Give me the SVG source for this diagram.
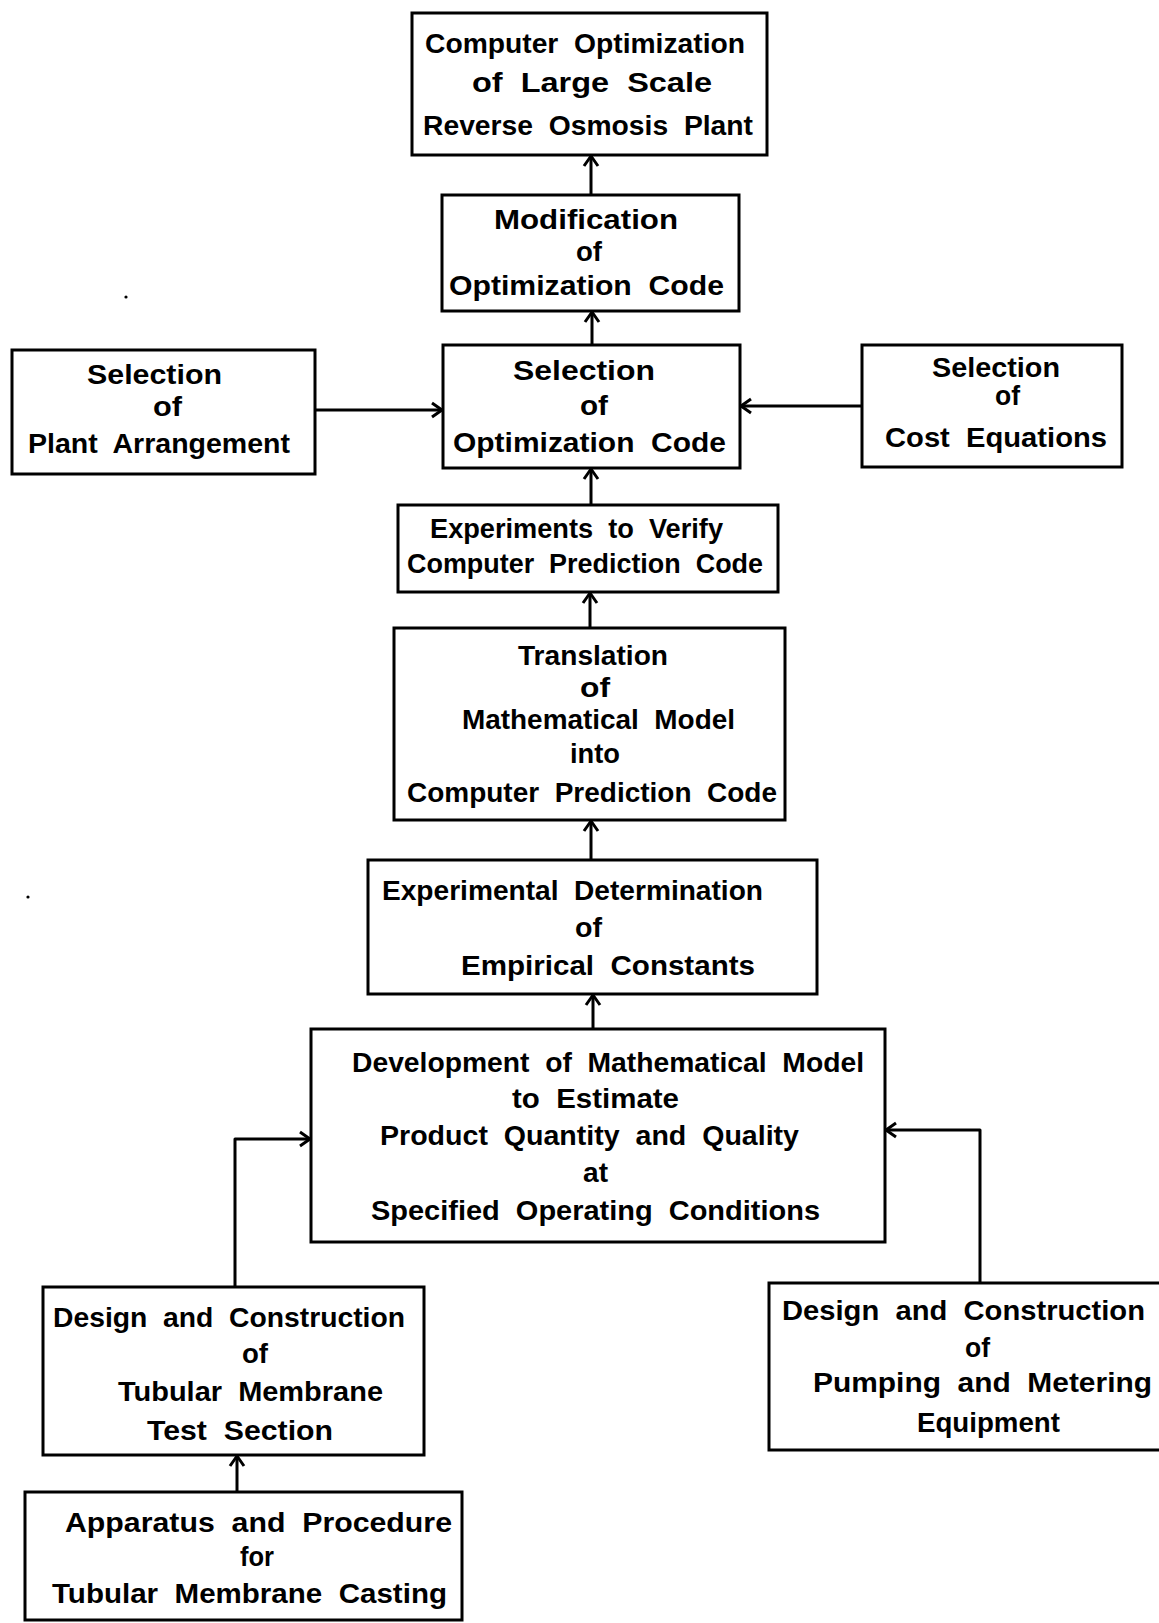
<svg xmlns="http://www.w3.org/2000/svg" width="1159" height="1623" viewBox="0 0 1159 1623">
  <style>
    .box { fill: #ffffff; stroke: #000000; stroke-width: 3; }
    .lbl { font-family: "Liberation Sans", Arial, sans-serif; font-weight: bold; font-size: 27px; fill: #000000; white-space: pre; }
    .wire { fill: none; stroke: #000000; stroke-width: 3; stroke-linejoin: round; }
  </style>
  <defs>
    <marker id="head" markerUnits="userSpaceOnUse" markerWidth="24" markerHeight="24" refX="12" refY="12" orient="auto">
      <path d="M2,5 L12,12 L2,19" fill="none" stroke="#000000" stroke-width="3" stroke-linejoin="miter"/>
    </marker>
  </defs>
  <rect width="1159" height="1623" fill="#ffffff"/>

  <!-- connectors -->
  <g id="connectors" class="wire">
    <path d="M591,195 V156" marker-end="url(#head)"/>
    <path d="M592,345 V312" marker-end="url(#head)"/>
    <path d="M315,410 H442" marker-end="url(#head)"/>
    <path d="M862,406 H741" marker-end="url(#head)"/>
    <path d="M591,505 V469" marker-end="url(#head)"/>
    <path d="M590,628 V593" marker-end="url(#head)"/>
    <path d="M591,860 V821" marker-end="url(#head)"/>
    <path d="M593,1029 V995" marker-end="url(#head)"/>
    <path d="M235,1287 V1139 H310" marker-end="url(#head)"/>
    <path d="M980,1283 V1130 H886" marker-end="url(#head)"/>
    <path d="M237,1492 V1456" marker-end="url(#head)"/>
  </g>

  <g id="computer-optimization">
    <rect class="box" x="412" y="13" width="355" height="142"/>
    <text class="lbl" xml:space="preserve" x="425" y="53" textLength="320" lengthAdjust="spacingAndGlyphs">Computer  Optimization</text>
    <text class="lbl" xml:space="preserve" x="472" y="92" textLength="240" lengthAdjust="spacingAndGlyphs">of  Large  Scale</text>
    <text class="lbl" xml:space="preserve" x="423" y="135" textLength="330" lengthAdjust="spacingAndGlyphs">Reverse  Osmosis  Plant</text>
  </g>

  <g id="modification">
    <rect class="box" x="442" y="195" width="297" height="116"/>
    <text class="lbl" x="494" y="229" textLength="184" lengthAdjust="spacingAndGlyphs">Modification</text>
    <text class="lbl" x="576" y="261" textLength="26" lengthAdjust="spacingAndGlyphs">of</text>
    <text class="lbl" xml:space="preserve" x="449" y="295" textLength="275" lengthAdjust="spacingAndGlyphs">Optimization  Code</text>
  </g>

  <g id="selection-code">
    <rect class="box" x="443" y="345" width="297" height="123"/>
    <text class="lbl" x="513" y="380" textLength="142" lengthAdjust="spacingAndGlyphs">Selection</text>
    <text class="lbl" x="580" y="415" textLength="28" lengthAdjust="spacingAndGlyphs">of</text>
    <text class="lbl" xml:space="preserve" x="453" y="452" textLength="273" lengthAdjust="spacingAndGlyphs">Optimization  Code</text>
  </g>

  <g id="selection-arrangement">
    <rect class="box" x="12" y="350" width="303" height="124"/>
    <text class="lbl" x="87" y="384" textLength="135" lengthAdjust="spacingAndGlyphs">Selection</text>
    <text class="lbl" x="153" y="416" textLength="29" lengthAdjust="spacingAndGlyphs">of</text>
    <text class="lbl" xml:space="preserve" x="28" y="453" textLength="262" lengthAdjust="spacingAndGlyphs">Plant  Arrangement</text>
  </g>

  <g id="selection-cost">
    <rect class="box" x="862" y="345" width="260" height="122"/>
    <text class="lbl" x="932" y="377" textLength="128" lengthAdjust="spacingAndGlyphs">Selection</text>
    <text class="lbl" x="995" y="405" textLength="25" lengthAdjust="spacingAndGlyphs">of</text>
    <text class="lbl" xml:space="preserve" x="885" y="447" textLength="222" lengthAdjust="spacingAndGlyphs">Cost  Equations</text>
  </g>

  <g id="verify-experiments">
    <rect class="box" x="398" y="505" width="380" height="87"/>
    <text class="lbl" xml:space="preserve" x="430" y="538" textLength="293" lengthAdjust="spacingAndGlyphs">Experiments  to  Verify</text>
    <text class="lbl" xml:space="preserve" x="407" y="573" textLength="356" lengthAdjust="spacingAndGlyphs">Computer  Prediction  Code</text>
  </g>

  <g id="translation">
    <rect class="box" x="394" y="628" width="391" height="192"/>
    <text class="lbl" x="518" y="665" textLength="150" lengthAdjust="spacingAndGlyphs">Translation</text>
    <text class="lbl" x="580" y="697" textLength="30" lengthAdjust="spacingAndGlyphs">of</text>
    <text class="lbl" xml:space="preserve" x="462" y="729" textLength="273" lengthAdjust="spacingAndGlyphs">Mathematical  Model</text>
    <text class="lbl" x="570" y="763" textLength="50" lengthAdjust="spacingAndGlyphs">into</text>
    <text class="lbl" xml:space="preserve" x="407" y="802" textLength="370" lengthAdjust="spacingAndGlyphs">Computer  Prediction  Code</text>
  </g>

  <g id="empirical-constants">
    <rect class="box" x="368" y="860" width="449" height="134"/>
    <text class="lbl" xml:space="preserve" x="382" y="900" textLength="381" lengthAdjust="spacingAndGlyphs">Experimental  Determination</text>
    <text class="lbl" x="575" y="937" textLength="27" lengthAdjust="spacingAndGlyphs">of</text>
    <text class="lbl" xml:space="preserve" x="461" y="975" textLength="294" lengthAdjust="spacingAndGlyphs">Empirical  Constants</text>
  </g>

  <g id="mathematical-model">
    <rect class="box" x="311" y="1029" width="574" height="213"/>
    <text class="lbl" xml:space="preserve" x="352" y="1072" textLength="512" lengthAdjust="spacingAndGlyphs">Development  of  Mathematical  Model</text>
    <text class="lbl" xml:space="preserve" x="512" y="1108" textLength="167" lengthAdjust="spacingAndGlyphs">to  Estimate</text>
    <text class="lbl" xml:space="preserve" x="380" y="1145" textLength="419" lengthAdjust="spacingAndGlyphs">Product  Quantity  and  Quality</text>
    <text class="lbl" x="583" y="1182" textLength="25" lengthAdjust="spacingAndGlyphs">at</text>
    <text class="lbl" xml:space="preserve" x="371" y="1220" textLength="449" lengthAdjust="spacingAndGlyphs">Specified  Operating  Conditions</text>
  </g>

  <g id="test-section">
    <rect class="box" x="43" y="1287" width="381" height="168"/>
    <text class="lbl" xml:space="preserve" x="53" y="1327" textLength="352" lengthAdjust="spacingAndGlyphs">Design  and  Construction</text>
    <text class="lbl" x="242" y="1363" textLength="26" lengthAdjust="spacingAndGlyphs">of</text>
    <text class="lbl" xml:space="preserve" x="118" y="1401" textLength="265" lengthAdjust="spacingAndGlyphs">Tubular  Membrane</text>
    <text class="lbl" xml:space="preserve" x="147" y="1440" textLength="186" lengthAdjust="spacingAndGlyphs">Test  Section</text>
  </g>

  <g id="pumping-metering">
    <rect class="box" x="769" y="1283" width="400" height="167"/>
    <text class="lbl" xml:space="preserve" x="782" y="1320" textLength="363" lengthAdjust="spacingAndGlyphs">Design  and  Construction</text>
    <text class="lbl" x="965" y="1357" textLength="25" lengthAdjust="spacingAndGlyphs">of</text>
    <text class="lbl" xml:space="preserve" x="813" y="1392" textLength="339" lengthAdjust="spacingAndGlyphs">Pumping  and  Metering</text>
    <text class="lbl" x="917" y="1432" textLength="143" lengthAdjust="spacingAndGlyphs">Equipment</text>
  </g>

  <g id="membrane-casting">
    <rect class="box" x="25" y="1492" width="437" height="128"/>
    <text class="lbl" xml:space="preserve" x="65" y="1532" textLength="387" lengthAdjust="spacingAndGlyphs">Apparatus  and  Procedure</text>
    <text class="lbl" x="240" y="1566" textLength="34" lengthAdjust="spacingAndGlyphs">for</text>
    <text class="lbl" xml:space="preserve" x="52" y="1603" textLength="395" lengthAdjust="spacingAndGlyphs">Tubular  Membrane  Casting</text>
  </g>

  <!-- stray specks on the sheet -->
  <circle cx="126" cy="297" r="1.6" fill="#000000"/>
  <circle cx="28" cy="897" r="1.6" fill="#000000"/>
</svg>
